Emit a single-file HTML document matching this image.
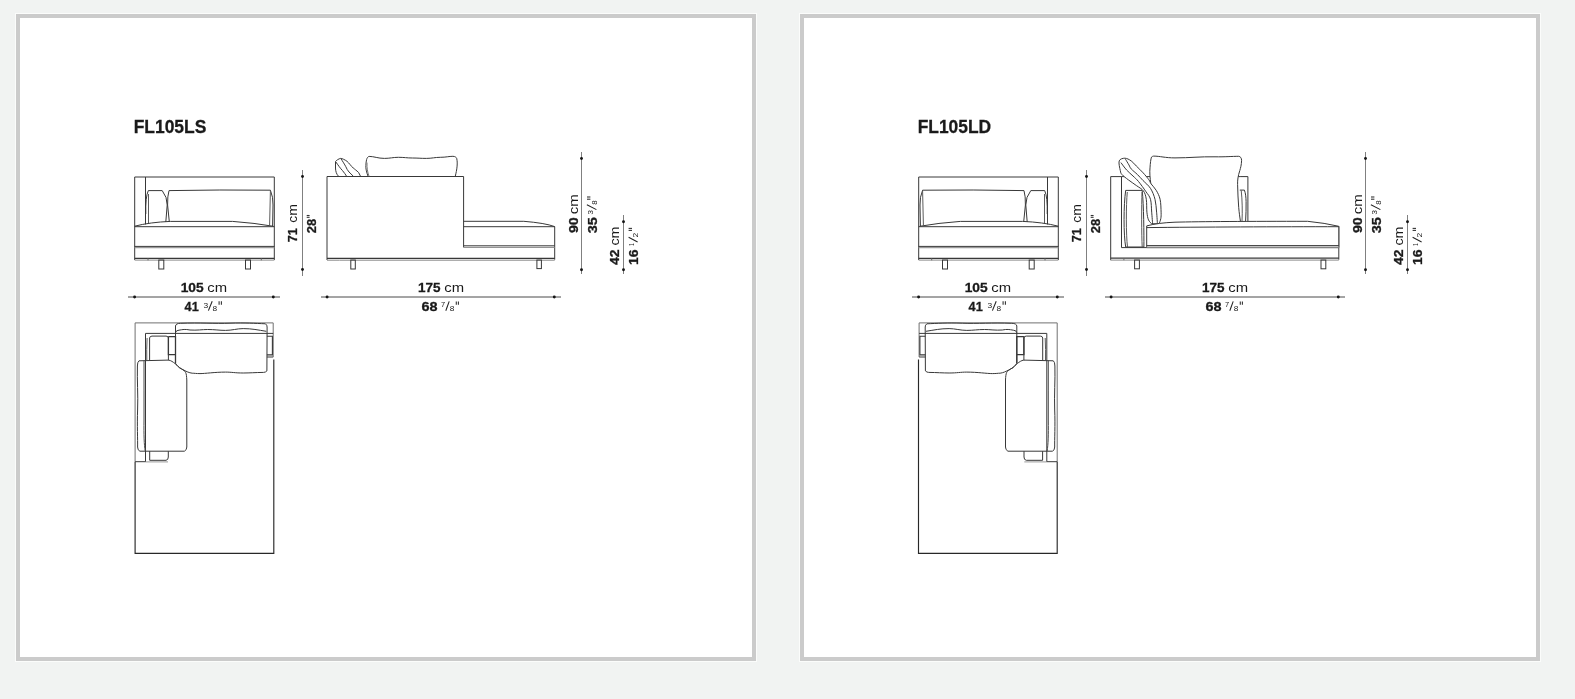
<!DOCTYPE html>
<html><head><meta charset="utf-8">
<style>
html,body{margin:0;padding:0;width:1575px;height:699px;overflow:hidden;background:#f1f3f2;}
.panel{position:absolute;top:14px;width:732px;height:639px;border:4px solid #cbcbcb;background:#fff;box-shadow:0 0 0 1px rgba(255,255,255,.7);}
#p1{left:16px;}
#p2{left:800px;}
svg{position:absolute;left:0;top:0;will-change:transform;}
text{font-family:"Liberation Sans",sans-serif;fill:#1a1a1a;}
text[font-weight="bold"]{stroke:#1a1a1a;stroke-width:0.3;}
</style></head><body>
<div class="panel" id="p1"></div>
<div class="panel" id="p2"></div>
<svg width="1575" height="699" viewBox="0 0 1575 699">
<text transform="translate(133.63,133.00) scale(0.924,1)" font-size="18.90" font-weight="bold">FL105LS</text>
<text transform="translate(917.64,133.00) scale(0.921,1)" font-size="18.90" font-weight="bold">FL105LD</text>
<g>
  <g>
    <g stroke="#808080" stroke-width="1" fill="none">
      <line x1="302.5" y1="170" x2="302.5" y2="276"/>
      <line x1="581.5" y1="152" x2="581.5" y2="274"/>
      <line x1="623.5" y1="215" x2="623.5" y2="274"/>
    </g>
    <g stroke="#4a4a4a" stroke-width="1" fill="none">
      <line x1="128" y1="297" x2="280" y2="297"/>
      <line x1="321" y1="297" x2="561" y2="297"/>
    </g>
    <g fill="#151515">
      <circle cx="302.5" cy="176.5" r="1.45"/><circle cx="302.5" cy="269.5" r="1.45"/>
      <circle cx="581.5" cy="158.5" r="1.45"/><circle cx="581.5" cy="269.7" r="1.45"/>
      <circle cx="623.5" cy="221.7" r="1.45"/><circle cx="623.5" cy="269.7" r="1.45"/>
      <circle cx="134.6" cy="297" r="1.45"/><circle cx="273.3" cy="297" r="1.45"/>
      <circle cx="327.1" cy="297" r="1.45"/><circle cx="554.3" cy="297" r="1.45"/>
    </g>
    <g>
<text transform="translate(180.63,292.40) scale(1.016,1)" font-size="13.60" font-weight="bold">105</text><text transform="translate(207.27,292.40) scale(1.126,1)" font-size="13.20">cm</text>
<text transform="translate(184.61,310.90) scale(0.935,1)" font-size="13.60" font-weight="bold">41</text><text transform="translate(203.58,307.70) scale(1.082,1)" font-size="7.80">3</text><line x1="208.40" y1="310.60" x2="212.20" y2="301.20" stroke="#222" stroke-width="1.05"/><text transform="translate(212.54,310.70) scale(1.066,1)" font-size="7.80">8</text><line x1="219.10" y1="301.20" x2="219.10" y2="304.80" stroke="#333" stroke-width="1.1"/><line x1="221.40" y1="301.20" x2="221.40" y2="304.80" stroke="#333" stroke-width="1.1"/>
<text transform="translate(418.05,292.20) scale(0.993,1)" font-size="13.60" font-weight="bold">175</text><text transform="translate(444.27,292.20) scale(1.126,1)" font-size="13.20">cm</text>
<text transform="translate(421.47,310.70) scale(1.063,1)" font-size="13.60" font-weight="bold">68</text><text transform="translate(441.12,306.80) scale(0.959,1)" font-size="7.80">7</text><line x1="445.80" y1="310.70" x2="449.20" y2="301.40" stroke="#222" stroke-width="1.05"/><text transform="translate(449.64,310.80) scale(1.066,1)" font-size="7.80">8</text><line x1="456.30" y1="301.40" x2="456.30" y2="304.80" stroke="#333" stroke-width="1.1"/><line x1="458.40" y1="301.40" x2="458.40" y2="304.80" stroke="#333" stroke-width="1.1"/>
<g transform="translate(296.8,241.8) rotate(-90)"><text transform="translate(-0.54,0.00) scale(0.932,1)" font-size="13.60" font-weight="bold">71</text><text transform="translate(19.01,0.00) scale(1.058,1)" font-size="13.20">cm</text></g>
<g transform="translate(316.1,232.8) rotate(-90)"><text transform="translate(-0.45,0.00) scale(0.948,1)" font-size="13.60" font-weight="bold">28</text><line x1="15.50" y1="-9.40" x2="15.50" y2="-6.50" stroke="#333" stroke-width="1.1"/><line x1="17.30" y1="-9.40" x2="17.30" y2="-6.50" stroke="#333" stroke-width="1.1"/></g>
<g transform="translate(578.0,232.6) rotate(-90)"><text transform="translate(-0.49,0.00) scale(1.050,1)" font-size="13.60" font-weight="bold">90</text><text transform="translate(18.26,0.00) scale(1.138,1)" font-size="13.20">cm</text></g>
<g transform="translate(596.6,232.9) rotate(-90)"><text transform="translate(-0.33,0.00) scale(1.067,1)" font-size="13.60" font-weight="bold">35</text><text transform="translate(18.29,-3.70) scale(1.028,1)" font-size="7.80">3</text><line x1="23.30" y1="-0.20" x2="28.10" y2="-9.70" stroke="#222" stroke-width="1.05"/><text transform="translate(28.26,0.00) scale(1.011,1)" font-size="7.80">8</text><line x1="33.70" y1="-9.60" x2="33.70" y2="-6.20" stroke="#333" stroke-width="1.1"/><line x1="35.90" y1="-9.60" x2="35.90" y2="-6.20" stroke="#333" stroke-width="1.1"/></g>
<g transform="translate(619.2,264.8) rotate(-90)"><text transform="translate(-0.21,0.00) scale(1.029,1)" font-size="13.60" font-weight="bold">42</text><text transform="translate(19.20,0.00) scale(1.076,1)" font-size="13.20">cm</text></g>
<g transform="translate(637.9,264.1) rotate(-90)"><text transform="translate(-0.88,0.00) scale(1.023,1)" font-size="13.60" font-weight="bold">16</text><text transform="translate(18.11,-4.30) scale(0.654,1)" font-size="7.80">1</text><line x1="22.10" y1="-0.30" x2="26.80" y2="-9.30" stroke="#222" stroke-width="1.05"/><text transform="translate(26.57,0.00) scale(1.098,1)" font-size="7.80">2</text><line x1="33.70" y1="-9.30" x2="33.70" y2="-5.90" stroke="#333" stroke-width="1.1"/><line x1="35.70" y1="-9.30" x2="35.70" y2="-5.90" stroke="#333" stroke-width="1.1"/></g>
    </g>
  </g>
</g>
<g transform="translate(784,0)">
  <g>
    <g stroke="#808080" stroke-width="1" fill="none">
      <line x1="302.5" y1="170" x2="302.5" y2="276"/>
      <line x1="581.5" y1="152" x2="581.5" y2="274"/>
      <line x1="623.5" y1="215" x2="623.5" y2="274"/>
    </g>
    <g stroke="#4a4a4a" stroke-width="1" fill="none">
      <line x1="128" y1="297" x2="280" y2="297"/>
      <line x1="321" y1="297" x2="561" y2="297"/>
    </g>
    <g fill="#151515">
      <circle cx="302.5" cy="176.5" r="1.45"/><circle cx="302.5" cy="269.5" r="1.45"/>
      <circle cx="581.5" cy="158.5" r="1.45"/><circle cx="581.5" cy="269.7" r="1.45"/>
      <circle cx="623.5" cy="221.7" r="1.45"/><circle cx="623.5" cy="269.7" r="1.45"/>
      <circle cx="134.6" cy="297" r="1.45"/><circle cx="273.3" cy="297" r="1.45"/>
      <circle cx="327.1" cy="297" r="1.45"/><circle cx="554.3" cy="297" r="1.45"/>
    </g>
    <g>
<text transform="translate(180.63,292.40) scale(1.016,1)" font-size="13.60" font-weight="bold">105</text><text transform="translate(207.27,292.40) scale(1.126,1)" font-size="13.20">cm</text>
<text transform="translate(184.61,310.90) scale(0.935,1)" font-size="13.60" font-weight="bold">41</text><text transform="translate(203.58,307.70) scale(1.082,1)" font-size="7.80">3</text><line x1="208.40" y1="310.60" x2="212.20" y2="301.20" stroke="#222" stroke-width="1.05"/><text transform="translate(212.54,310.70) scale(1.066,1)" font-size="7.80">8</text><line x1="219.10" y1="301.20" x2="219.10" y2="304.80" stroke="#333" stroke-width="1.1"/><line x1="221.40" y1="301.20" x2="221.40" y2="304.80" stroke="#333" stroke-width="1.1"/>
<text transform="translate(418.05,292.20) scale(0.993,1)" font-size="13.60" font-weight="bold">175</text><text transform="translate(444.27,292.20) scale(1.126,1)" font-size="13.20">cm</text>
<text transform="translate(421.47,310.70) scale(1.063,1)" font-size="13.60" font-weight="bold">68</text><text transform="translate(441.12,306.80) scale(0.959,1)" font-size="7.80">7</text><line x1="445.80" y1="310.70" x2="449.20" y2="301.40" stroke="#222" stroke-width="1.05"/><text transform="translate(449.64,310.80) scale(1.066,1)" font-size="7.80">8</text><line x1="456.30" y1="301.40" x2="456.30" y2="304.80" stroke="#333" stroke-width="1.1"/><line x1="458.40" y1="301.40" x2="458.40" y2="304.80" stroke="#333" stroke-width="1.1"/>
<g transform="translate(296.8,241.8) rotate(-90)"><text transform="translate(-0.54,0.00) scale(0.932,1)" font-size="13.60" font-weight="bold">71</text><text transform="translate(19.01,0.00) scale(1.058,1)" font-size="13.20">cm</text></g>
<g transform="translate(316.1,232.8) rotate(-90)"><text transform="translate(-0.45,0.00) scale(0.948,1)" font-size="13.60" font-weight="bold">28</text><line x1="15.50" y1="-9.40" x2="15.50" y2="-6.50" stroke="#333" stroke-width="1.1"/><line x1="17.30" y1="-9.40" x2="17.30" y2="-6.50" stroke="#333" stroke-width="1.1"/></g>
<g transform="translate(578.0,232.6) rotate(-90)"><text transform="translate(-0.49,0.00) scale(1.050,1)" font-size="13.60" font-weight="bold">90</text><text transform="translate(18.26,0.00) scale(1.138,1)" font-size="13.20">cm</text></g>
<g transform="translate(596.6,232.9) rotate(-90)"><text transform="translate(-0.33,0.00) scale(1.067,1)" font-size="13.60" font-weight="bold">35</text><text transform="translate(18.29,-3.70) scale(1.028,1)" font-size="7.80">3</text><line x1="23.30" y1="-0.20" x2="28.10" y2="-9.70" stroke="#222" stroke-width="1.05"/><text transform="translate(28.26,0.00) scale(1.011,1)" font-size="7.80">8</text><line x1="33.70" y1="-9.60" x2="33.70" y2="-6.20" stroke="#333" stroke-width="1.1"/><line x1="35.90" y1="-9.60" x2="35.90" y2="-6.20" stroke="#333" stroke-width="1.1"/></g>
<g transform="translate(619.2,264.8) rotate(-90)"><text transform="translate(-0.21,0.00) scale(1.029,1)" font-size="13.60" font-weight="bold">42</text><text transform="translate(19.20,0.00) scale(1.076,1)" font-size="13.20">cm</text></g>
<g transform="translate(637.9,264.1) rotate(-90)"><text transform="translate(-0.88,0.00) scale(1.023,1)" font-size="13.60" font-weight="bold">16</text><text transform="translate(18.11,-4.30) scale(0.654,1)" font-size="7.80">1</text><line x1="22.10" y1="-0.30" x2="26.80" y2="-9.30" stroke="#222" stroke-width="1.05"/><text transform="translate(26.57,0.00) scale(1.098,1)" font-size="7.80">2</text><line x1="33.70" y1="-9.30" x2="33.70" y2="-5.90" stroke="#333" stroke-width="1.1"/><line x1="35.70" y1="-9.30" x2="35.70" y2="-5.90" stroke="#333" stroke-width="1.1"/></g>
    </g>
  </g>
</g>
<g><g stroke="#383838" stroke-width="1" fill="none">
    <path d="M134.7,260 V177 H274.3 V260"/>
    <path d="M134.7,258.4 H274.3" stroke-width="1.2"/>
    <path d="M134.7,260.1 H274.3" stroke="#8a8a8a"/>
    <path d="M148,258.4 V260.3 M261.3,258.4 V260.3" stroke="#666"/>
    <path d="M145.5,177 V224.4"/>
    <path d="M145.8,214 Q145.3,197 148.3,190.6 H162.2 Q167.3,197 167.2,205 L165.8,222"/>
    <path d="M148.5,194 V223" stroke="#5a5a5a"/>
    <path d="M169.3,221.8 L167.6,205 Q167.4,196 169,190.6 Q220,189.6 270.4,190.2 Q273.3,197 273,205 L272.6,226"/>
    <path d="M270.4,191 L269.6,225.3" stroke="#5a5a5a"/>
    <path d="M134.7,226.2 Q150,222.2 170.3,221.4 L232.6,221.4 Q255,223 273.5,226.3"/>
    <path d="M134.7,226.7 H274.3"/>
    <path d="M134.7,246.4 H274.3"/>
    <path d="M134.7,247.6 H274.3" stroke="#9a9a9a" stroke-width="1.4"/>
    <rect x="158.8" y="260" width="5" height="9"/>
    <rect x="245.5" y="260" width="5" height="9"/>
</g>
</g>
<g><g stroke="#383838" stroke-width="1" fill="none">
    <path d="M135.1,461.7 V322.9 H273.2 V357" stroke="#707070"/>
    <path d="M135.1,461.7 V553.3 H273.8 V359.5" stroke="#282828" stroke-width="1.15"/>
    <path d="M135.1,461.7 H145.5"/>
    <path d="M145.5,461.9 H168" stroke="#9a9a9a"/>
    <path d="M145.5,461.7 V333.4 H273.2"/>
    <path d="M175.5,363.3 V326 Q175.8,323.4 180.6,323.3 C200,322.5 215,323.8 230,323.2 C245,322.6 255,323.4 265.4,323.8 Q267.2,325 267.1,327 L266.9,370.9 Q265.5,372.4 263.6,372.4 C255,372.5 250,373 243.2,373 C235,373 232,372.1 225.5,372.1 C215,372.1 205,373.6 200,373.6 C196,373.6 194.5,373.2 192.2,373.2 C189,372.8 186.5,371.5 184,370.2 C182,369 180.5,368.5 179.3,367.6 C177.5,366 176.3,364.5 175.5,363.3"/>
    <path d="M175.5,332.7 Q176,330.2 179,330.2 C183,329.5 185,329 190,330 C197,330.5 202,329.5 207.7,329.5 C215,329.5 219,330.4 225.5,330.4 C232,330.4 237,328.6 243.2,328.6 C252,328.6 258,330 266.3,331.3"/>
    <path d="M168.4,336.6 H175.5 V363.3 M175.5,354.6 H168.4 V336.6" stroke-width="1.3"/>
    <path d="M266.9,336.2 H272.4 V354.9 H266.9 M266.9,357 H273.2" stroke-width="1.1"/>
    <path d="M149.6,360.4 V338 Q149.8,336.1 152,336.1 H166 Q168.4,336.1 168.4,338 V360.4"/>
    <path d="M147.1,338 Q146.5,350 146.8,360.4" stroke="#5a5a5a"/>
    <path d="M139,360.8 Q137.4,362 137.4,366 C137,380 138.2,395 137.6,410 C137,425 137.8,440 137.6,447 Q137.7,450.5 139.9,451.2 H184.4 Q186.8,450 186.8,447 V380 C186.6,376 186.3,374 185.75,372.7 C185,371.5 184.8,371 184,370.6 C182.5,369.5 181,368.5 179.3,367.6 C177.8,366.2 176.5,364.5 175,363.5 C173,362 171,360.5 168.6,360.1 Z"/>
    <path d="M144,360.5 C143.7,380 144.3,400 144,420 C143.8,435 144.1,445 145.2,451" stroke="#4a4a4a"/>
    <path d="M149.7,451.2 V460.3 H166 Q168.3,460 168.3,457 V451.2"/>
</g>
</g>
<g transform="translate(1193,0) scale(-1,1)"><g stroke="#383838" stroke-width="1" fill="none">
    <path d="M134.7,260 V177 H274.3 V260"/>
    <path d="M134.7,258.4 H274.3" stroke-width="1.2"/>
    <path d="M134.7,260.1 H274.3" stroke="#8a8a8a"/>
    <path d="M148,258.4 V260.3 M261.3,258.4 V260.3" stroke="#666"/>
    <path d="M145.5,177 V224.4"/>
    <path d="M145.8,214 Q145.3,197 148.3,190.6 H162.2 Q167.3,197 167.2,205 L165.8,222"/>
    <path d="M148.5,194 V223" stroke="#5a5a5a"/>
    <path d="M169.3,221.8 L167.6,205 Q167.4,196 169,190.6 Q220,189.6 270.4,190.2 Q273.3,197 273,205 L272.6,226"/>
    <path d="M270.4,191 L269.6,225.3" stroke="#5a5a5a"/>
    <path d="M134.7,226.2 Q150,222.2 170.3,221.4 L232.6,221.4 Q255,223 273.5,226.3"/>
    <path d="M134.7,226.7 H274.3"/>
    <path d="M134.7,246.4 H274.3"/>
    <path d="M134.7,247.6 H274.3" stroke="#9a9a9a" stroke-width="1.4"/>
    <rect x="158.8" y="260" width="5" height="9"/>
    <rect x="245.5" y="260" width="5" height="9"/>
</g>
</g>
<g transform="translate(1192.3,0) scale(-1,1)"><g stroke="#383838" stroke-width="1" fill="none">
    <path d="M135.1,461.7 V322.9 H273.2 V357" stroke="#707070"/>
    <path d="M135.1,461.7 V553.3 H273.8 V359.5" stroke="#282828" stroke-width="1.15"/>
    <path d="M135.1,461.7 H145.5"/>
    <path d="M145.5,461.9 H168" stroke="#9a9a9a"/>
    <path d="M145.5,461.7 V333.4 H273.2"/>
    <path d="M175.5,363.3 V326 Q175.8,323.4 180.6,323.3 C200,322.5 215,323.8 230,323.2 C245,322.6 255,323.4 265.4,323.8 Q267.2,325 267.1,327 L266.9,370.9 Q265.5,372.4 263.6,372.4 C255,372.5 250,373 243.2,373 C235,373 232,372.1 225.5,372.1 C215,372.1 205,373.6 200,373.6 C196,373.6 194.5,373.2 192.2,373.2 C189,372.8 186.5,371.5 184,370.2 C182,369 180.5,368.5 179.3,367.6 C177.5,366 176.3,364.5 175.5,363.3"/>
    <path d="M175.5,332.7 Q176,330.2 179,330.2 C183,329.5 185,329 190,330 C197,330.5 202,329.5 207.7,329.5 C215,329.5 219,330.4 225.5,330.4 C232,330.4 237,328.6 243.2,328.6 C252,328.6 258,330 266.3,331.3"/>
    <path d="M168.4,336.6 H175.5 V363.3 M175.5,354.6 H168.4 V336.6" stroke-width="1.3"/>
    <path d="M266.9,336.2 H272.4 V354.9 H266.9 M266.9,357 H273.2" stroke-width="1.1"/>
    <path d="M149.6,360.4 V338 Q149.8,336.1 152,336.1 H166 Q168.4,336.1 168.4,338 V360.4"/>
    <path d="M147.1,338 Q146.5,350 146.8,360.4" stroke="#5a5a5a"/>
    <path d="M139,360.8 Q137.4,362 137.4,366 C137,380 138.2,395 137.6,410 C137,425 137.8,440 137.6,447 Q137.7,450.5 139.9,451.2 H184.4 Q186.8,450 186.8,447 V380 C186.6,376 186.3,374 185.75,372.7 C185,371.5 184.8,371 184,370.6 C182.5,369.5 181,368.5 179.3,367.6 C177.8,366.2 176.5,364.5 175,363.5 C173,362 171,360.5 168.6,360.1 Z"/>
    <path d="M144,360.5 C143.7,380 144.3,400 144,420 C143.8,435 144.1,445 145.2,451" stroke="#4a4a4a"/>
    <path d="M149.7,451.2 V460.3 H166 Q168.3,460 168.3,457 V451.2"/>
</g>
</g>
<g stroke="#383838" stroke-width="1" fill="none">
    <path d="M327,260 V176.5 H463.6 V247.4"/>
    <path d="M463.6,221.3 H523.8 Q545,223 554.7,226.6 V259.7"/>
    <path d="M463.6,226.7 H554.7"/>
    <path d="M463.6,245.8 H554.7"/>
    <path d="M463.6,247.4 H554.7" stroke="#888"/>
    <path d="M327,258.3 H554.7" stroke-width="1.3"/>
    <path d="M327,260.2 H339.5 M339.5,260.2 H554.7" stroke="#888"/>
    <rect x="350.8" y="260" width="4.5" height="9"/>
    <rect x="536.9" y="260" width="4.5" height="8.6"/>
    <path d="M338.7,176.4 C336.5,174.5 335.5,171 335.5,168 L335.5,161.6 C336,160.5 339,158.6 340.6,158.4 C342,158.4 345,159.8 347,161.3 C349,163 351.5,166.5 353.2,168 C354.5,169 356.5,170.5 358.6,172.5 L360.6,176.4"/>
    <path d="M335.8,161.9 C338,165 340.5,168.5 342.5,170.6 C344,172.3 345.5,174.5 346.7,176.4"/>
    <path d="M340.9,158.7 C342.5,161 344.8,164.7 345.8,166.7 C346.8,168.6 347.5,170.5 349,172 C350.5,173.5 352,175 353.5,176.4"/>
    <path d="M368,176.2 C366.5,172 365.5,168 365.9,165.4 C366,162 366.5,159.5 367,158.4 C367.5,157.3 368.5,156.4 369.1,156.4 C374,156.4 378,158.4 384.4,158.4 C390,158.4 393,157.3 398.4,157.3 C404,157.3 407,158 412.4,158 C418,158 420,158.4 426.3,158.4 C432,158.4 435,157.3 440.3,157.3 C446,157.3 449,156.3 452.9,156.3 C455,156.3 456.5,157.5 456.7,158.4 C457.3,161 457.3,163 457.1,166.1 C456.8,170 456,173 455.3,176.2"/>
    <path d="M367,162.6 C366.8,168 367.5,172 369,176.2" stroke="#777"/>
  </g>

<g stroke="#383838" stroke-width="1" fill="none">
    <path d="M1110.7,260.2 V176.6 H1121.5 V247.6 H1338.8"/>
    <path d="M1338.8,226.3 V259.7"/>
    <path d="M1110.7,258.2 H1338.8" stroke-width="1.2"/>
    <path d="M1110.7,260.1 H1338.8" stroke="#8a8a8a"/>
    <path d="M1123.9,258.2 V260.2" stroke="#666"/>
    <path d="M1121.5,176.6 H1240.1 M1240.1,176.6 H1247.9 V221"/>
    <path fill="#fff" stroke="none" d="M1150.8,183.6 C1150,178 1149.5,172 1150,167.9 C1150.3,163 1150.8,159 1151.5,157.1 C1152,156.5 1153,156.1 1153.6,156.1 C1160,156.1 1165,157.9 1175,157.9 C1190,157.9 1200,156.5 1215,156.8 C1225,157 1232,156.3 1238.7,156.3 C1240.5,156.5 1241.5,158 1241.6,160.3 C1241.5,165 1240.5,168 1239.8,170.6 C1238,176 1237.5,180 1237.6,184.4 C1237.7,192 1238.2,200 1238.7,207.3 C1239.2,213 1239.8,217 1240.4,221 L1152,221 Z"/>
    <path d="M1150.8,183.6 C1150,178 1149.5,172 1150,167.9 C1150.3,163 1150.8,159 1151.5,157.1 C1152,156.5 1153,156.1 1153.6,156.1 C1160,156.1 1165,157.9 1175,157.9 C1190,157.9 1200,156.5 1215,156.8 C1225,157 1232,156.3 1238.7,156.3 C1240.5,156.5 1241.5,158 1241.6,160.3 C1241.5,165 1240.5,168 1239.8,170.6 C1238,176 1237.5,180 1237.6,184.4 C1237.7,192 1238.2,200 1238.7,207.3 C1239.2,213 1239.8,217 1240.4,221"/>
    <path d="M1239.8,190.1 H1244.4 C1245.5,193 1246,197 1246.1,201.5 C1246.2,208 1246,215 1245.6,221"/>
    <path d="M1241.2,190.3 C1242.3,200 1242.5,212 1242,221" stroke="#5a5a5a"/>
    <path fill="#fff" d="M1125.7,247 C1123.5,235 1123.5,205 1125.7,190.4 H1142.2 C1143.8,205 1144,235 1143.9,247 Z"/>
    <path d="M1127.5,247 C1126,235 1126,205 1127.3,192" stroke="#5a5a5a"/>
    <path d="M1142,192 C1141.5,205 1141.5,235 1142.2,247" stroke="#5a5a5a"/>
    <path fill="#fff" d="M1159.10,223.80 C1159.38,222.93 1160.47,220.53 1160.80,218.60 C1161.13,216.67 1161.22,215.42 1161.10,212.20 C1160.98,208.98 1160.92,202.95 1160.10,199.30 C1159.28,195.65 1157.70,192.87 1156.20,190.30 C1154.70,187.73 1152.32,185.65 1151.10,183.90 C1149.88,182.15 1150.22,181.63 1148.90,179.80 C1147.58,177.97 1145.30,175.20 1143.20,172.90 C1141.10,170.60 1138.30,168.00 1136.30,166.00 C1134.30,164.00 1133.10,162.20 1131.20,160.90 C1129.30,159.60 1126.90,158.20 1124.90,158.20 C1122.90,158.20 1119.97,158.83 1119.20,160.90 C1118.43,162.97 1119.83,168.32 1120.30,170.60 C1120.77,172.88 1120.67,173.07 1122.00,174.60 C1123.33,176.13 1125.92,177.98 1128.30,179.80 C1130.68,181.62 1133.78,183.65 1136.30,185.50 C1138.82,187.35 1141.73,188.60 1143.40,190.90 C1145.07,193.20 1145.72,195.75 1146.30,199.30 C1146.88,202.85 1146.53,208.77 1146.90,212.20 C1147.27,215.63 1147.70,217.97 1148.50,219.90 C1149.30,221.83 1151.17,223.15 1151.70,223.80 Z"/>
    <path d="M1120.90,162.60 C1121.85,163.83 1124.58,167.77 1126.60,170.00 C1128.62,172.23 1131.02,174.08 1133.00,176.00 C1134.98,177.92 1136.35,178.90 1138.50,181.50 C1140.65,184.10 1143.90,188.63 1145.90,191.60 C1147.90,194.57 1149.53,195.87 1150.50,199.30 C1151.47,202.73 1151.33,207.92 1151.70,212.20 C1152.07,216.48 1152.53,222.87 1152.70,225.00"/>
    <path d="M1125.50,159.20 C1126.07,160.15 1127.95,163.28 1128.90,164.90 C1129.85,166.52 1129.77,167.28 1131.20,168.90 C1132.63,170.52 1135.53,172.67 1137.50,174.60 C1139.47,176.53 1140.83,178.20 1143.00,180.50 C1145.17,182.80 1148.50,185.27 1150.50,188.40 C1152.50,191.53 1153.98,195.33 1155.00,199.30 C1156.02,203.27 1156.18,207.92 1156.60,212.20 C1157.02,216.48 1157.35,222.87 1157.50,225.00"/>
    <path fill="#fff" d="M1146.7,247.6 V225.9 Q1158,222.8 1175,222.2 C1200,221.5 1250,221.3 1307.6,221.3 Q1325,223 1338.8,226.3 V247.6 Z"/>
    <path d="M1146.7,227.6 C1200,227 1280,226.7 1338.8,226.7"/>
    <path d="M1146.7,245.6 H1338.8"/>
    <path d="M1146.7,247.1 H1338.8" stroke="#9a9a9a" stroke-width="1.2"/>
    <rect x="1134.6" y="260" width="4.8" height="8.8"/>
    <rect x="1321" y="260" width="4.8" height="8.8"/>
</g>

</svg>
</body></html>
